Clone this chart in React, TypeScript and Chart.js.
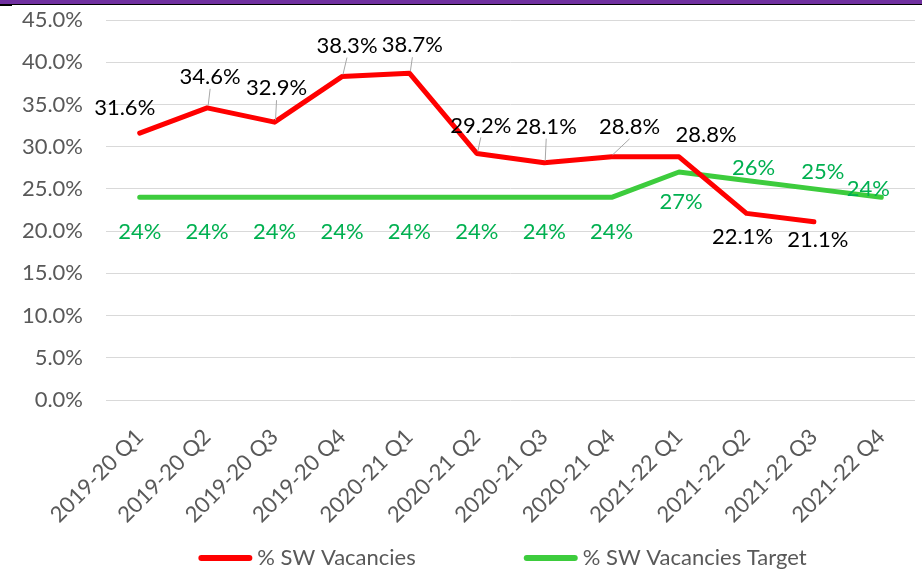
import React, { useEffect, useRef } from "react";
import { Chart, registerables } from "chart.js";

Chart.register(...registerables);

// ---- data ----
const categories = [
  "2019-20 Q1", "2019-20 Q2", "2019-20 Q3", "2019-20 Q4",
  "2020-21 Q1", "2020-21 Q2", "2020-21 Q3", "2020-21 Q4",
  "2021-22 Q1", "2021-22 Q2", "2021-22 Q3", "2021-22 Q4",
];
const vacancies: (number | null)[] = [31.6, 34.6, 32.9, 38.3, 38.7, 29.2, 28.1, 28.8, 28.8, 22.1, 21.1, null];
const target: number[] = [24, 24, 24, 24, 24, 24, 24, 24, 27, 26, 25, 24];
const yMin = 0;
const yMax = 45;
const yStep = 5;
const seriesNames = ["% SW Vacancies", "% SW Vacancies Target"];

// ---- label placement (pixel offsets from the point: dx, dy, leader line?) ----
const vacLabelPos: [number, number, boolean][] = [
  [-15, -25, false], [3, -31, true], [2, -34, true], [5, -31, true],
  [3, -28, true], [4, -28, true], [2, -36, true], [18, -30, true],
  [27, -22, false], [-4, 24, false], [4, 18, false], [0, 0, false],
];
const tgtLabelPos: [number, number][] = [
  [0, 35], [0, 35], [0, 35], [0, 35], [0, 35], [0, 35], [0, 35], [0, 35],
  [2, 30], [7, -13], [9, -17], [-13, -8],
];

const FONT = "Lato, 'Noto Sans', sans-serif";
const FS = 22;
const RED = "#FF0000";
const GREEN = "#3DCC3D";
const GREEN_TEXT = "#00B050";
const GREY = "#595959";

const dataLabelPlugin = {
  id: "dataLabels",
  afterDatasetsDraw(chart: any) {
    const ctx = chart.ctx;
    ctx.save();
    ctx.font = `${FS}px ${FONT}`;
    ctx.textAlign = "center";
    ctx.textBaseline = "middle";
    const m0 = chart.getDatasetMeta(0);
    m0.data.forEach((pt: any, i: number) => {
      const v = vacancies[i];
      if (v == null) return;
      const [dx, dy, leader] = vacLabelPos[i];
      const lx = pt.x + dx;
      const ly = pt.y + dy;
      if (leader) {
        ctx.strokeStyle = "#A6A6A6";
        ctx.lineWidth = 1;
        ctx.beginPath();
        ctx.moveTo(pt.x + 1, pt.y - 2);
        ctx.lineTo(lx, ly + 12);
        ctx.stroke();
      }
      ctx.fillStyle = "#000000";
      ctx.fillText(v.toFixed(1) + "%", lx, ly);
    });
    const m1 = chart.getDatasetMeta(1);
    m1.data.forEach((pt: any, i: number) => {
      const v = target[i];
      if (v == null) return;
      const [dx, dy] = tgtLabelPos[i];
      ctx.fillStyle = GREEN_TEXT;
      ctx.fillText(Math.round(v) + "%", pt.x + dx, pt.y + dy);
    });
    ctx.restore();
  },
};

const legendPlugin = {
  id: "customLegend",
  afterDraw(chart: any) {
    const ctx = chart.ctx;
    ctx.save();
    ctx.font = `${FS}px ${FONT}`;
    ctx.textBaseline = "middle";
    ctx.textAlign = "left";
    const sample = 54;
    const gapText = 5;
    const gapItem = 108;
    const colors = [RED, GREEN];
    const widths = seriesNames.map((n) => ctx.measureText(n).width);
    const total = sample * 2 + gapText * 2 + widths[0] + widths[1] + gapItem;
    const center = (chart.chartArea.left + chart.chartArea.right) / 2 - 8;
    let x = center - total / 2;
    const y = 558;
    seriesNames.forEach((n, i) => {
      ctx.strokeStyle = colors[i];
      ctx.lineWidth = 6;
      ctx.lineCap = "round";
      ctx.beginPath();
      ctx.moveTo(x + 3, y);
      ctx.lineTo(x + sample - 3, y);
      ctx.stroke();
      x += sample + gapText;
      ctx.fillStyle = GREY;
      ctx.fillText(n, x, y);
      x += widths[i] + gapItem;
    });
    ctx.restore();
  },
};

export default function App() {
  const canvasRef = useRef<HTMLCanvasElement | null>(null);

  useEffect(() => {
    document.body.style.margin = "0";
    const canvas = canvasRef.current;
    if (!canvas) return;
    const chart = new Chart(canvas, {
      type: "line",
      data: {
        labels: categories,
        datasets: [
          {
            label: seriesNames[0],
            data: vacancies,
            borderColor: RED,
            backgroundColor: RED,
            borderWidth: 5,
            pointRadius: 0,
            tension: 0,
            borderJoinStyle: "round",
            borderCapStyle: "round",
            spanGaps: false,
          },
          {
            label: seriesNames[1],
            data: target,
            borderColor: GREEN,
            backgroundColor: GREEN,
            borderWidth: 5,
            pointRadius: 0,
            tension: 0,
            borderJoinStyle: "round",
            borderCapStyle: "round",
          },
        ],
      },
      options: {
        animation: false,
        responsive: false,
        devicePixelRatio: 1,
        layout: { padding: { left: 0, right: 7, top: 20, bottom: 0 } },
        plugins: {
          legend: { display: false },
          tooltip: { enabled: false },
        },
        scales: {
          x: {
            offset: true,
            grid: { display: false, drawTicks: false },
            border: { display: false },
            ticks: {
              color: GREY,
              font: { family: FONT, size: FS },
              minRotation: 45,
              maxRotation: 45,
              padding: 24,
            },
            afterFit(scale: any) {
              scale.height = 181;
              scale.paddingLeft = 0;
              scale.paddingRight = 0;
            },
          },
          y: {
            min: yMin,
            max: yMax,
            grid: { color: "#D9D9D9", lineWidth: 1, drawTicks: false },
            border: { display: false },
            ticks: {
              stepSize: yStep,
              color: GREY,
              font: { family: FONT, size: FS },
              padding: 23,
              callback: (v: any) => Number(v).toFixed(1) + "%",
            },
            afterFit(scale: any) {
              scale.width = 106;
              scale.paddingTop = 0;
              scale.paddingBottom = 0;
            },
          },
        },
      },
      plugins: [dataLabelPlugin, legendPlugin],
    });
    return () => chart.destroy();
  }, []);

  return (
    <div style={{ position: "relative", width: 922, height: 581, background: "#fff", overflow: "hidden" }}>
      <canvas ref={canvasRef} width={922} height={581} style={{ display: "block" }} />
      <div style={{ position: "absolute", left: 0, top: 0, width: 922, height: 4, background: "#7030A0" }} />
      <div style={{ position: "absolute", left: 0, top: 4, width: 922, height: 1, background: "#000" }} />
      <div style={{ position: "absolute", left: 0, top: 4, width: 12, height: 2, background: "#000" }} />
    </div>
  );
}
